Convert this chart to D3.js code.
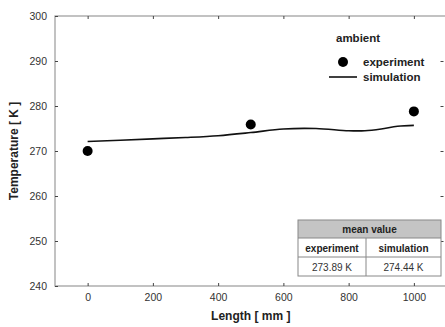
<!DOCTYPE html>
<html>
<head>
<meta charset="utf-8">
<script src="https://cdn.jsdelivr.net/npm/d3@7"></script>
<style>
  html, body { margin: 0; padding: 0; background: #fff; }
  svg { display: block; font-family: "Liberation Sans", Arial, sans-serif; }
</style>
</head>
<body>
<svg id="chart" width="445" height="327"></svg>
<script>
// Measured temperatures along the length
const expLength = [0, 500, 1000];
const expTemp = [270.0, 275.9, 278.8];

// Simulated temperature profile
const simLength = [0, 100, 200, 300, 400, 500, 600, 700, 800, 850, 900, 950, 1000];
const simTemp = [272.1, 272.4, 272.7, 273.0, 273.4, 274.1, 274.9, 275.0, 274.5, 274.5, 274.9, 275.5, 275.7];

const xTicks = [0, 200, 400, 600, 800, 1000];
const yTicks = [240, 250, 260, 270, 280, 290, 300];

const tableTitle = "mean value";
const tableHeads = ["experiment", "simulation"];
const tableValues = ["273.89 K", "274.44 K"];

const svg = d3.select("#chart");
const plotL = 55, plotR = 446.5, plotT = 16, plotB = 286;

const x = d3.scaleLinear().domain([-100, 1100]).range([plotL, plotR]);
const y = d3.scaleLinear().domain([240, 300]).range([plotB, plotT]);

const frameColor = "#9a9a9a";
const tickColor = "#444";

// Frame
svg.append("rect")
  .attr("x", plotL).attr("y", plotT)
  .attr("width", plotR - plotL).attr("height", plotB - plotT)
  .attr("fill", "none").attr("stroke", frameColor).attr("stroke-width", 1.2);

// Axes with inward ticks
const xAxis = svg.append("g").attr("transform", `translate(0,${plotB})`)
  .call(d3.axisBottom(x).tickValues(xTicks).tickFormat(d3.format("d"))
    .tickSizeInner(-3).tickSizeOuter(0).tickPadding(8));
const xTop = svg.append("g").attr("transform", `translate(0,${plotT})`)
  .call(d3.axisTop(x).tickValues(xTicks).tickSizeInner(-3).tickSizeOuter(0).tickFormat(""));
const yAxis = svg.append("g").attr("transform", `translate(${plotL},0)`)
  .call(d3.axisLeft(y).tickValues(yTicks).tickSizeInner(-3).tickSizeOuter(0).tickPadding(8));
const yRight = svg.append("g").attr("transform", `translate(${plotR - 3},0)`)
  .call(d3.axisRight(y).tickValues(yTicks.slice(1, -1)).tickSizeInner(-3).tickSizeOuter(0).tickFormat(""));

[xAxis, xTop, yAxis, yRight].forEach(g => {
  g.select(".domain").remove();
  g.selectAll(".tick line").attr("stroke", tickColor);
  g.selectAll(".tick text")
    .attr("fill", "#333")
    .attr("font-size", 10.5)
    .attr("font-family", "'Liberation Sans', Arial, sans-serif");
});

// Axis titles
svg.append("text")
  .attr("x", (x(0) + x(1000)) / 2).attr("y", 320)
  .attr("text-anchor", "middle")
  .attr("font-size", 12).attr("font-weight", "bold").attr("fill", "#222")
  .text("Length [ mm ]");

svg.append("text")
  .attr("transform", `translate(18,${(plotT + plotB) / 2}) rotate(-90)`)
  .attr("text-anchor", "middle")
  .attr("font-size", 12).attr("font-weight", "bold").attr("fill", "#222")
  .text("Temperature [ K ]");

// Simulation curve
const line = d3.line()
  .x((d, i) => x(simLength[i]))
  .y(d => y(d))
  .curve(d3.curveCatmullRom.alpha(0.5));
svg.append("path")
  .datum(simTemp)
  .attr("d", line)
  .attr("fill", "none").attr("stroke", "#111").attr("stroke-width", 1.6);

// Experiment points
svg.selectAll("circle.exp")
  .data(expTemp)
  .join("circle")
  .attr("class", "exp")
  .attr("cx", (d, i) => x(expLength[i]))
  .attr("cy", d => y(d))
  .attr("r", 5)
  .attr("fill", "#000");

// Legend
const leg = svg.append("g");
leg.append("text").attr("x", 336).attr("y", 42)
  .attr("font-size", 11.5).attr("font-weight", "bold").attr("fill", "#222").text("ambient");
leg.append("circle").attr("cx", 343).attr("cy", 62).attr("r", 5).attr("fill", "#000");
leg.append("text").attr("x", 363).attr("y", 66)
  .attr("font-size", 11.5).attr("font-weight", "bold").attr("fill", "#222").text("experiment");
leg.append("line").attr("x1", 329).attr("x2", 357).attr("y1", 77).attr("y2", 77)
  .attr("stroke", "#111").attr("stroke-width", 1.6);
leg.append("text").attr("x", 363).attr("y", 81)
  .attr("font-size", 11.5).attr("font-weight", "bold").attr("fill", "#222").text("simulation");

// Mean value table
const tx0 = 298, tx1 = 441, tmid = 366;
const ty = [220, 238, 257, 276];
const tbl = svg.append("g");
tbl.append("rect").attr("x", tx0).attr("y", ty[0]).attr("width", tx1 - tx0).attr("height", ty[1] - ty[0])
  .attr("fill", "#c4c4c4");
tbl.append("rect").attr("x", tx0).attr("y", ty[1]).attr("width", tx1 - tx0).attr("height", ty[3] - ty[1])
  .attr("fill", "#fff");
tbl.append("rect").attr("x", tx0).attr("y", ty[0]).attr("width", tx1 - tx0).attr("height", ty[3] - ty[0])
  .attr("fill", "none").attr("stroke", "#888").attr("stroke-width", 1);
[ty[1], ty[2]].forEach(v => tbl.append("line")
  .attr("x1", tx0).attr("x2", tx1).attr("y1", v).attr("y2", v)
  .attr("stroke", "#888").attr("stroke-width", 1));
tbl.append("line").attr("x1", tmid).attr("x2", tmid).attr("y1", ty[1]).attr("y2", ty[3])
  .attr("stroke", "#888").attr("stroke-width", 1);

tbl.append("text").attr("x", (tx0 + tx1) / 2).attr("y", ty[0] + 13)
  .attr("text-anchor", "middle").attr("font-size", 10).attr("font-weight", "bold").attr("fill", "#222")
  .text(tableTitle);
const colCenters = [(tx0 + tmid) / 2, (tmid + tx1) / 2];
tableHeads.forEach((h, i) => tbl.append("text")
  .attr("x", colCenters[i]).attr("y", ty[1] + 13.5)
  .attr("text-anchor", "middle").attr("font-size", 10).attr("font-weight", "bold").attr("fill", "#222")
  .text(h));
tableValues.forEach((v, i) => tbl.append("text")
  .attr("x", colCenters[i]).attr("y", ty[2] + 13.5)
  .attr("text-anchor", "middle").attr("font-size", 10).attr("fill", "#333")
  .text(v));
</script>
</body>
</html>
